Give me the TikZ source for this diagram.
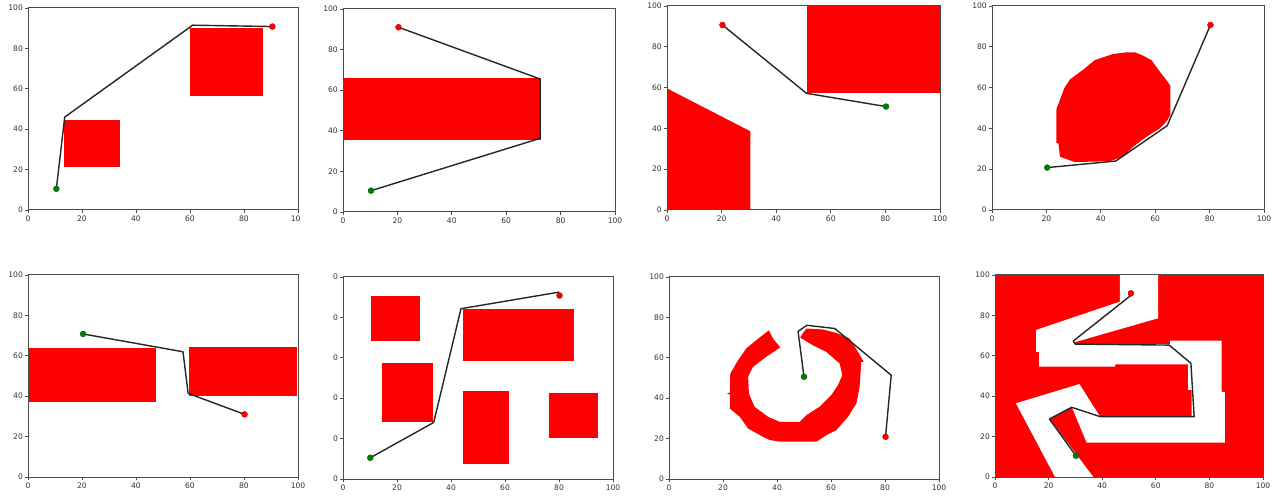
\documentclass[tikz,border=0pt]{standalone}
\usepackage{fontspec}
\setmainfont{DejaVu Sans}
\tikzset{
  obst/.style={fill=red, draw=none},
  freezone/.style={fill=white, draw=none},
  frame/.style={draw=black!70, line width=0.025cm},
  tickmark/.style={draw=black!70, line width=0.02cm},
  ticklab/.style={font=\fontsize{5.4}{6}\selectfont, text=black!80, inner sep=0pt},
  route/.style={draw=black!85, line width=0.035cm, line join=round},
  startpt/.style={circle, fill=green!50!black, draw=green!30!black, line width=0.2pt, minimum size=0.15cm, inner sep=0pt},
  goalpt/.style={circle, fill=red, draw=red!60!black, line width=0.2pt, minimum size=0.15cm, inner sep=0pt},
}
\newcommand{\axesdecor}[3]{%
  \begin{scope}
    \clip (#2,-20) rectangle (#3,110);
    \foreach \v in {0,20,...,100}{
      \draw[tickmark] (\v,0) -- (\v,-1.5);
      \node[ticklab, anchor=north] (#1x\v) at (\v,-2.6) {\v};
      \draw[tickmark] (0,\v) -- (-1.1,\v);
      \node[ticklab, anchor=east] (#1y\v) at (-1.8,\v) {\v};
    }
  \end{scope}
  \draw[frame] (0,0) rectangle (100,100);
}
\begin{document}
\begin{tikzpicture}[x=0.025cm, y=0.025cm]
\useasboundingbox[fill=white] (0,0) rectangle (1278,495);

% ---------- panel 1 ----------
\begin{scope}[shift={(28,285)}, xscale=2.70, yscale=2.02]
  \fill[obst] (13.5,21.5) rectangle (34,44.5);
  \fill[obst] (60,56.5) rectangle (87,90);
  \coordinate (s1) at (10.5,10.5);
  \coordinate (g1) at (90.5,90.8);
  \draw[route] (s1) -- (13.6,46) -- (61,91.5) -- (g1);
  \node[startpt] (s1m) at (s1) {};
  \node[goalpt] (g1m) at (g1) {};
  \axesdecor{a}{-20}{100.7}
\end{scope}

% ---------- panel 2 ----------
\begin{scope}[shift={(343,283)}, xscale=2.72, yscale=2.03]
  \fill[obst] (0,35.5) rectangle (72.7,65.8);
  \coordinate (s2) at (10.3,10.5);
  \coordinate (g2) at (20.4,91);
  \draw[route] (s2) -- (72.5,36.3) -- (72.5,65.5) -- (g2);
  \node[startpt] (s2m) at (s2) {};
  \node[goalpt] (g2m) at (g2) {};
  \axesdecor{b}{-20}{115}
\end{scope}

% ---------- panel 3 ----------
\begin{scope}[shift={(667,285)}, xscale=2.73, yscale=2.04]
  \fill[obst] (51.3,57.2) rectangle (100,100);
  \fill[obst] (0,0) -- (0,59.6) -- (30.5,38.6) -- (30.5,0) -- cycle;
  \coordinate (s3) at (80.2,50.7);
  \coordinate (g3) at (20.3,90.7);
  \draw[route] (s3) -- (51.1,57.2) -- (g3);
  \node[startpt] (s3m) at (s3) {};
  \node[goalpt] (g3m) at (g3) {};
  \axesdecor{c}{-20}{115}
\end{scope}

% ---------- panel 4 ----------
\begin{scope}[shift={(992,285)}, xscale=2.72, yscale=2.04]
  \fill[obst] (23.7,49.5) -- (26.6,59.8) -- (28.6,63.9) -- (34.1,69.4) -- (37.8,73.5)
    -- (44.6,76.5) -- (49.4,77.3) -- (52.5,77.3) -- (55,76) -- (58.6,73.5) -- (61.7,67.8)
    -- (64.1,63.7) -- (65.6,60.8) -- (65.6,46.6) -- (64.1,43.3) -- (61.7,40) -- (56.8,35.9)
    -- (51.9,31) -- (48.2,26.1) -- (43.3,23.9) -- (30.4,23.5) -- (25,26.1) -- (24.4,32.7)
    -- (23.7,32.8) -- cycle;
  \coordinate (s4) at (20.3,20.8);
  \coordinate (g4) at (80.3,90.7);
  \draw[route] (s4) -- (45.5,24) -- (64.4,41.3) -- (g4);
  \node[startpt] (s4m) at (s4) {};
  \node[goalpt] (g4m) at (g4) {};
  \axesdecor{d}{-20}{115}
\end{scope}

% ---------- panel 5 ----------
\begin{scope}[shift={(28,18)}, xscale=2.70, yscale=2.02]
  \fill[obst] (0,37.3) rectangle (47.3,63.7);
  \fill[obst] (59.6,40) rectangle (99.5,64.5);
  \coordinate (s5) at (20.4,70.8);
  \coordinate (g5) at (80.2,31);
  \draw[route] (s5) -- (57.4,62) -- (59.3,41.4) -- (g5);
  \node[startpt] (s5m) at (s5) {};
  \node[goalpt] (g5m) at (g5) {};
  \axesdecor{e}{-20}{115}
\end{scope}

% ---------- panel 6 ----------
\begin{scope}[shift={(343,16)}, xscale=2.70, yscale=2.02]
  \fill[obst] (10.5,68.4) rectangle (28.4,90.4);
  \fill[obst] (14.4,28.3) rectangle (33.3,57.5);
  \fill[obst] (44.4,58.5) rectangle (85.4,84.3);
  \fill[obst] (44.4,7.4) rectangle (61.5,43.7);
  \fill[obst] (76.4,20.1) rectangle (94.3,42.7);
  \coordinate (s6) at (10.1,10.5);
  \coordinate (g6) at (80.2,90.8);
  \coordinate (e6) at (80,92.5);
  \draw[route] (s6) -- (33.6,28) -- (43.7,84.3) -- (e6);
  \node[startpt] (s6m) at (s6) {};
  \node[goalpt] (g6m) at (g6) {};
  \axesdecor{f}{-3.7}{115}
\end{scope}

% ---------- panel 7 ----------
\begin{scope}[shift={(669,16)}, xscale=2.70, yscale=2.02]
  \fill[obst] (37,73.6) -- (32.3,68.7) -- (28.6,64.6) -- (25.6,58.8) -- (22.7,52.2)
    -- (22.5,42.8) -- (21.5,42.3) -- (22.5,41.8) -- (22.5,34.9) -- (26.2,30.8) -- (29.3,25)
    -- (34.8,20.9) -- (37.3,19.3) -- (41,18.5) -- (54.6,18.5) -- (58.3,21.7) -- (62,24.2)
    -- (66.3,30.8) -- (69.4,37.4) -- (70.6,45.6) -- (71.2,58) -- (72.1,58) -- (70,62.9)
    -- (66.9,69.5) -- (62,72.3) -- (57,74) -- (50.9,74.5) -- (49.5,72) -- (48.6,70)
    -- (50.2,68.7) -- (53.3,66.2) -- (58.3,62.9) -- (63.2,57.2) -- (64.2,51.4) -- (62.6,46.5)
    -- (60.1,41.5) -- (55.8,35.8) -- (50.9,31.6) -- (48.4,28.3) -- (41,28.3) -- (36.7,30.8)
    -- (31.7,35.7) -- (29.6,42.3) -- (29.3,50.6) -- (31.1,55.5) -- (36,60.5) -- (39.7,63.8)
    -- (41.2,65.1) -- (38.5,69.5) -- cycle;
  \coordinate (s7) at (50,50.6);
  \coordinate (g7) at (80.2,20.9);
  \draw[route] (s7) -- (47.8,73.1) -- (51.1,76.1) -- (61.4,74.5) -- (82.3,51.4) -- (g7);
  \node[startpt] (s7m) at (s7) {};
  \node[goalpt] (g7m) at (g7) {};
  \axesdecor{g}{-20}{115}
\end{scope}

% ---------- panel 8 ----------
\begin{scope}[shift={(995,18)}, xscale=2.68, yscale=2.02]
  \fill[obst] (0,0) rectangle (100,100);
  \fill[freezone] (22.4,0) -- (7.8,36.5) -- (31.5,46.0) -- (39.2,29.9) -- (73.4,29.9)
    -- (73.4,43.1) -- (72.1,43.1) -- (72.1,55.8) -- (44.8,55.8) -- (44.8,54.6) -- (16.5,54.6)
    -- (16.5,62) -- (15.3,62) -- (15.3,72.8) -- (46.6,86.8) -- (46.6,100) -- (60.9,100)
    -- (60.9,78.6) -- (29.4,66.6) -- (29.4,65.8) -- (65.3,65.8) -- (65.3,67.5) -- (84.6,67.5)
    -- (84.6,42.2) -- (85.8,42.2) -- (85.8,17) -- (34.2,17) -- (28.6,34.8) -- (20.3,29)
    -- (36.7,0) -- cycle;
  \coordinate (s8) at (30.2,10.5);
  \coordinate (g8) at (50.7,90.9);
  \draw[route] (s8) -- (20.3,28.7) -- (28.6,34.5) -- (39.2,29.9) -- (74.3,29.9)
    -- (73.1,56.3) -- (65,65.3) -- (29.9,65.8) -- (29.2,67.3) -- (50.4,89.6) -- (g8);
  \node[startpt] (s8m) at (s8) {};
  \node[goalpt] (g8m) at (g8) {};
  \axesdecor{h}{-20}{115}
\end{scope}
\end{tikzpicture}
\end{document}
